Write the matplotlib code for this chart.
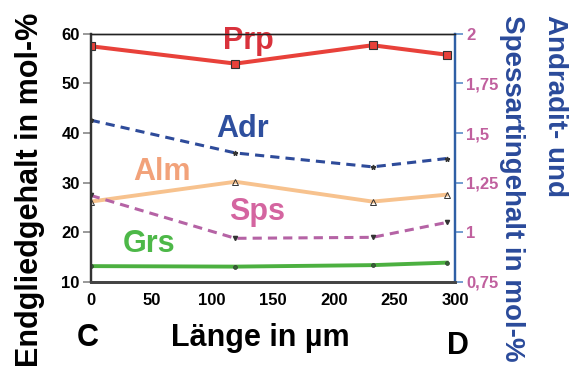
import matplotlib.pyplot as plt

plt.rcParams['font.family'] = ['Liberation Sans', 'DejaVu Sans']
plt.rcParams['font.weight'] = 'bold'

laenge = [0, 119, 232, 293]
prp = [57.5, 54.0, 57.7, 55.8]
alm = [26.2, 30.2, 26.2, 27.6]
grs = [13.2, 13.1, 13.4, 13.9]
# right axis (mol-%)
adr = [1.565, 1.40, 1.33, 1.372]
sps = [1.186, 0.97, 0.975, 1.05]

right_ticks = [0.75, 1, 1.25, 1.5, 1.75, 2]
right_labels = ['0,75', '1', '1,25', '1,5', '1,75', '2']

fig = plt.figure(figsize=(5.82, 3.76), dpi=100)
ax = fig.add_axes([0.156, 0.25, 0.626, 0.66])
ax2 = ax.twinx()

# left axis series
ax.plot(laenge, prp, color='#e8413a', lw=2.9, marker='s', ms=6,
        mfc='#e8413a', mec='#333333', mew=0.8, zorder=3)
ax.plot(laenge, alm, color='#f7c28e', lw=2.8, marker='^', ms=4.5,
        mfc='none', mec='#333333', mew=0.7, zorder=3)
ax.plot(laenge, grs, color='#4cb040', lw=2.8, marker='o', ms=2.8,
        mfc='#336633', mec='#333333', mew=0.5, zorder=3)

# right axis series
ax2.plot(laenge, adr, color='#2e4b9a', lw=2.2, ls=(0, (3, 2)), marker='*',
         ms=3.5, mfc='#333333', mec='#333333', zorder=3)
ax2.plot(laenge, sps, color='#b563a5', lw=2.2, ls=(0, (3, 2)), marker='v',
         ms=3, mfc='#333333', mec='#333333', zorder=3)

ax.set_xlim(0, 300)
ax.set_ylim(10, 60)
ax.set_xticks(range(0, 301, 50))
ax.set_yticks(range(10, 61, 10))
ax2.set_ylim(0.75, 2)
ax2.set_yticks(right_ticks)
ax2.set_yticklabels(right_labels)

ax.tick_params(axis='x', length=0, pad=8, labelsize=12)
ax.tick_params(axis='y', direction='out', length=6, width=1.2,
               color='#888888', labelsize=12, pad=2)
ax2.tick_params(axis='y', direction='out', length=6, width=1.2,
                color='#5b8cc8', labelsize=12, labelcolor='#c0609e', pad=2)
for lab in ax.get_xticklabels() + ax.get_yticklabels() + ax2.get_yticklabels():
    lab.set_fontweight('bold')

for a in (ax, ax2):
    a.spines['left'].set_color('#333333')
    a.spines['left'].set_linewidth(1.6)
    a.spines['bottom'].set_color('#444444')
    a.spines['bottom'].set_linewidth(2)
    a.spines['top'].set_color('#222222')
    a.spines['top'].set_linewidth(1)
    a.spines['right'].set_color('#2f5fa5')
    a.spines['right'].set_linewidth(1.6)

# series names
fs = 22
ax.text(129.4, 56.9, 'Prp', color='#d9323c', fontsize=fs, fontweight='bold',
        ha='center', va='baseline')
ax.text(125.3, 39.3, 'Adr', color='#2e4f9e', fontsize=fs, fontweight='bold',
        ha='center', va='baseline')
ax.text(58.9, 30.6, 'Alm', color='#f2a27a', fontsize=fs, fontweight='bold',
        ha='center', va='baseline')
ax.text(136.6, 22.4, 'Sps', color='#d465a0', fontsize=fs, fontweight='bold',
        ha='center', va='baseline')
ax.text(47.8, 16.0, 'Grs', color='#4db848', fontsize=fs, fontweight='bold',
        ha='center', va='baseline')

# axis titles
fig.text(30 / 582, 1 - 190 / 376, 'Endgliedgehalt in mol-%', rotation=90,
         fontsize=22, fontweight='bold', ha='center', va='center')
fig.text(260 / 582, 1 - 338 / 376, 'Länge in µm', fontsize=22,
         fontweight='bold', ha='center', va='center')
fig.text(88 / 582, 1 - 338 / 376, 'C', fontsize=22, fontweight='bold',
         ha='center', va='center')
fig.text(458 / 582, 1 - 346 / 376, 'D', fontsize=22, fontweight='bold',
         ha='center', va='center')
fig.text(555 / 582, 1 - 15 / 376, 'Andradit- und', rotation=270,
         fontsize=20, fontweight='bold', color='#2a4a9a', ha='center', va='top')
fig.text(512 / 582, 1 - 15 / 376, 'Spessartingehalt in mol-%', rotation=270,
         fontsize=20, fontweight='bold', color='#2a4a9a', ha='center', va='top')

fig.savefig('out.png', dpi=100)
